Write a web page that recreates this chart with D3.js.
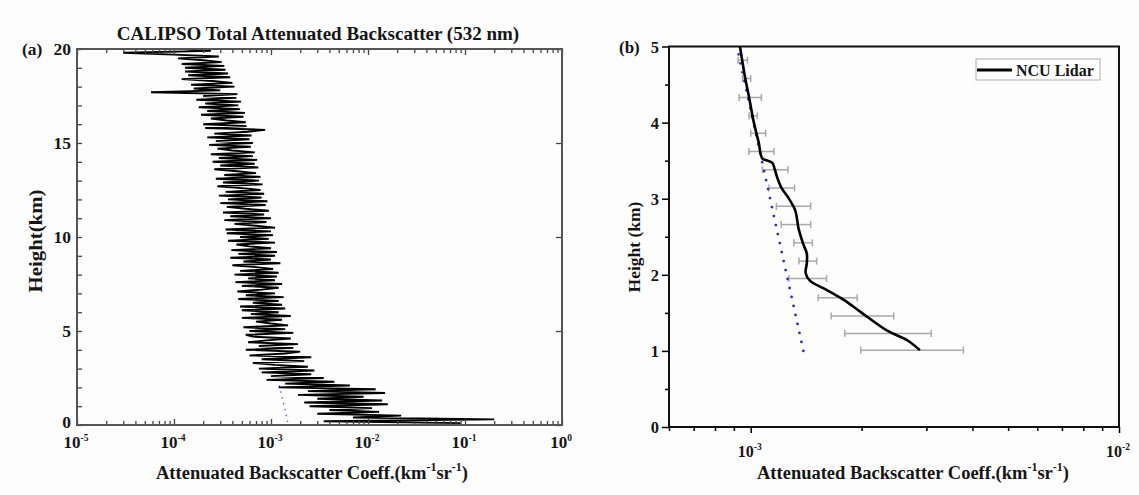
<!DOCTYPE html>
<html><head><meta charset="utf-8">
<script src="https://cdn.jsdelivr.net/npm/d3@7"></script>
<style>
body{margin:0;background:#fdfdfd}
text{font-family:"Liberation Serif","Times New Roman",serif;font-weight:bold;fill:#151515}
</style>
</head><body><svg id="c" width="1139" height="495"></svg>
<script>
// ---------- data ----------
// CALIPSO total attenuated backscatter profile, one value per 0.1 km bin starting at 0 km
const calipsoStartKm = 0, calipsoStepKm = 0.1;
const calipsoBeta = [
 4.5e-3, 9.0e-2, 3.5e-3, 2.0e-1, 7.0e-3, 2.2e-2, 3.0e-3, 1.3e-2, 4.0e-3, 1.1e-2,
 2.5e-3, 1.6e-2, 2.2e-3, 1.4e-2, 3.0e-3, 9.0e-3, 1.9e-3, 1.5e-2, 2.4e-3, 1.2e-2,
 1.2e-3, 6.5e-3, 1.4e-3, 4.5e-3, 9.0e-4, 3.5e-3, 1.0e-3, 2.6e-3, 8.0e-4, 2.8e-3,
 7.5e-4, 2.4e-3, 1.1e-3, 6.5e-4, 2.2e-3, 8.0e-4, 2.6e-3, 6.0e-4, 1.4e-3, 2.0e-3,
 5.5e-4, 1.7e-3, 7.5e-4, 1.9e-3, 5.8e-4, 9.0e-4, 1.6e-3, 6.5e-4, 5.5e-4, 1.7e-3,
 6.0e-4, 1.4e-3, 5.2e-4, 1.5e-3, 1.0e-3, 7.0e-4, 1.3e-3, 5.0e-4, 1.6e-3, 6.2e-4,
 1.2e-3, 5.0e-4, 1.4e-3, 4.8e-4, 1.3e-3, 6.5e-4, 1.2e-3, 4.6e-4, 1.35e-3, 5.5e-4,
 1.1e-3, 4.5e-4, 8.0e-4, 1.2e-3, 5.0e-4, 1.3e-3, 4.3e-4, 1.1e-3, 5.8e-4, 1.15e-3,
 4.2e-4, 1.2e-3, 4.8e-4, 1.05e-3, 7.0e-4, 4.0e-4, 1.25e-3, 5.2e-4, 1.0e-3, 3.8e-4,
 1.1e-3, 4.6e-4, 1.15e-3, 3.9e-4, 1.0e-3, 6.0e-4, 4.4e-4, 1.1e-3, 3.6e-4, 9.5e-4,
 4.8e-4, 1.05e-3, 3.5e-4, 1.0e-3, 3.4e-4, 1.1e-3, 7.0e-4, 4.2e-4, 9.0e-4, 3.3e-4,
 1.0e-3, 3.8e-4, 8.5e-4, 3.2e-4, 9.5e-4, 5.5e-4, 3.5e-4, 8.8e-4, 3.0e-4, 9.2e-4,
 3.6e-4, 8.0e-4, 2.9e-4, 8.5e-4, 3.4e-4, 7.8e-4, 5.0e-4, 2.8e-4, 8.2e-4, 3.2e-4,
 7.5e-4, 2.7e-4, 7.8e-4, 3.3e-4, 7.0e-4, 4.5e-4, 2.6e-4, 7.4e-4, 3.0e-4, 6.8e-4,
 2.5e-4, 7.2e-4, 2.9e-4, 6.5e-4, 2.4e-4, 6.8e-4, 4.0e-4, 2.8e-4, 6.2e-4, 2.3e-4,
 6.5e-4, 2.7e-4, 6.0e-4, 2.2e-4, 6.3e-4, 2.6e-4, 5.8e-4, 8.7e-4, 2.1e-4, 5.6e-4,
 2.0e-4, 5.5e-4, 3.5e-4, 2.4e-4, 5.2e-4, 1.9e-4, 5.4e-4, 2.2e-4, 4.8e-4, 1.8e-4,
 4.6e-4, 2.1e-4, 4.9e-4, 1.7e-4, 4.4e-4, 2.0e-4, 4.5e-4, 5.8e-5, 3.0e-4, 1.6e-4,
 4.2e-4, 1.5e-4, 4.0e-4, 2.5e-4, 1.2e-4, 3.8e-4, 1.4e-4, 3.6e-4, 1.3e-4, 3.4e-4,
 1.3e-4, 3.3e-4, 1.2e-4, 3.1e-4, 2.0e-4, 1.1e-4, 2.9e-4, 1.0e-4, 3.0e-5, 2.4e-4,
 1.3e-4
];
// molecular (Rayleigh) reference visible in panel (a)
const molAHeights = [0.2, 0.7, 1.2, 1.7, 2.3];
const molABeta = [1.48e-3, 1.41e-3, 1.34e-3, 1.27e-3, 1.19e-3];

// panel (b): NCU Lidar
const lidarHeights = [5.0, 4.6, 4.33, 4.0, 3.75, 3.53, 3.5, 3.47, 3.4, 3.28, 3.15, 3.0, 2.85, 2.6, 2.4, 2.28, 2.15, 2.02, 1.92, 1.8, 1.67, 1.51, 1.27, 1.14, 1.01];
const lidarBeta = [0.935e-3, 0.965e-3, 0.99e-3, 1.02e-3, 1.05e-3, 1.075e-3, 1.11e-3, 1.145e-3, 1.16e-3, 1.18e-3, 1.21e-3, 1.27e-3, 1.32e-3, 1.35e-3, 1.39e-3, 1.42e-3, 1.42e-3, 1.41e-3, 1.45e-3, 1.61e-3, 1.79e-3, 1.99e-3, 2.34e-3, 2.66e-3, 2.88e-3];
// panel (b): molecular reference
const molBHeights = [1.0, 1.5, 2.0, 2.5, 3.0, 3.5, 4.0, 4.5, 5.0];
const molBBeta = [1.390e-3, 1.320e-3, 1.252e-3, 1.189e-3, 1.129e-3, 1.072e-3, 1.017e-3, 0.966e-3, 0.917e-3];
// panel (b): error bars
const errHeights = [1.01, 1.23, 1.46, 1.70, 1.95, 2.18, 2.42, 2.66, 2.90, 3.14, 3.38, 3.62, 3.86, 4.09, 4.33, 4.58, 4.82];
const errLow  = [1.99e-3, 1.80e-3, 1.654e-3, 1.525e-3, 1.27e-3, 1.352e-3, 1.31e-3, 1.21e-3, 1.174e-3, 1.121e-3, 1.076e-3, 0.989e-3, 1.0e-3, 0.99e-3, 0.93e-3, 0.95e-3, 0.924e-3];
const errHigh = [3.78e-3, 3.09e-3, 2.446e-3, 1.946e-3, 1.607e-3, 1.51e-3, 1.47e-3, 1.455e-3, 1.455e-3, 1.316e-3, 1.262e-3, 1.156e-3, 1.098e-3, 1.042e-3, 1.069e-3, 1.0e-3, 0.98e-3];

// ticks
const aXTickValues = [1e-5, 1e-4, 1e-3, 1e-2, 1e-1, 1];
const aXTickExps = ["-5", "-4", "-3", "-2", "-1", "0"];
const aYTickValues = [0, 5, 10, 15, 20];
const bXTickValues = [1e-3, 1e-2];
const bXTickExps = ["-3", "-2"];
const bYTickValues = [0, 1, 2, 3, 4, 5];

// ---------- drawing ----------
const svg = d3.select("#c");
const A = {x0: 77, x1: 562, y0: 49, y1: 425};
const B = {x0: 669, x1: 1119, y0: 46.5, y1: 427};

const ax = d3.scaleLog().domain([1e-5, 1]).range([A.x0, A.x1]);
const ay = d3.scaleLinear().domain([0, 20]).range([A.y1, A.y0]);
const bx = d3.scaleLog().domain([6e-4, 1e-2]).range([B.x0, B.x1]);
const by = d3.scaleLinear().domain([0, 5]).range([B.y1, B.y0]);

function isDecade(v){ const l = Math.log10(v); return Math.abs(l - Math.round(l)) < 1e-6; }

// ----- Panel (a) -----
const ga = svg.append("g");
const calipso = calipsoBeta.map((v, i) => ({h: calipsoStartKm + i * calipsoStepKm, v}));

ga.append("path")
  .datum(molAHeights.map((h, i) => ({h, v: molABeta[i]})))
  .attr("fill", "none").attr("stroke", "#5b6be0").attr("stroke-width", 1.7)
  .attr("stroke-linecap", "round").attr("stroke-dasharray", "0,6")
  .attr("d", d3.line().x(d => ax(d.v)).y(d => ay(d.h)));

ga.append("path").datum(calipso)
  .attr("fill", "none").attr("stroke", "#000").attr("stroke-width", 1.9)
  .attr("stroke-linejoin", "bevel")
  .attr("d", d3.line().x(d => ax(d.v)).y(d => ay(d.h)));

const aLogTicks = ax.ticks();
function logTicksA(g, orient){
  const ax2 = (orient === "bottom" ? d3.axisBottom(ax) : d3.axisTop(ax));
  g.call(ax2.tickValues(aLogTicks).tickFormat("").tickSizeOuter(0).tickSize(-4));
  g.select(".domain").remove();
  g.selectAll(".tick line").attr("stroke", "#444").attr("stroke-width", 1.3)
    .attr("y2", d => (orient === "bottom" ? -1 : 1) * (isDecade(d) ? 6 : 4));
}
ga.append("g").attr("transform", `translate(0,${A.y1})`).call(g => logTicksA(g, "bottom"));
ga.append("g").attr("transform", `translate(0,${A.y0})`).call(g => logTicksA(g, "top"));
ga.append("g").attr("transform", `translate(${A.x0},0)`)
  .call(d3.axisLeft(ay).ticks(20).tickFormat("").tickSize(-5).tickSizeOuter(0))
  .call(g => g.select(".domain").remove())
  .call(g => g.selectAll(".tick line").attr("stroke", "#444").attr("stroke-width", 1.3));
ga.append("g").attr("transform", `translate(${A.x1},0)`)
  .call(d3.axisRight(ay).tickValues(aYTickValues).tickFormat("").tickSize(-6).tickSizeOuter(0))
  .call(g => g.select(".domain").remove())
  .call(g => g.selectAll(".tick line").attr("stroke", "#444").attr("stroke-width", 1.3));

ga.append("rect").attr("x", A.x0).attr("y", A.y0).attr("width", A.x1 - A.x0).attr("height", A.y1 - A.y0)
  .attr("fill", "none").attr("stroke", "#555").attr("stroke-width", 2);

aYTickValues.forEach(v => {
  ga.append("text").attr("x", A.x0 - 6).attr("y", ay(v) + (v === 0 ? 3 : 6))
    .attr("text-anchor", "end").attr("font-size", 17.5).text(v);
});
ga.append("text").attr("x", 22).attr("y", ay(20) + 6).attr("font-size", 17.5).text("(a)");
aXTickValues.forEach((v, i) => {
  const t = ga.append("text").attr("x", ax(v) - 1).attr("y", A.y1 + 23)
    .attr("text-anchor", "middle").attr("font-size", 17);
  t.append("tspan").text("10");
  t.append("tspan").attr("dy", -7).attr("font-size", 9.5).text(aXTickExps[i]);
});
ga.append("text").attr("x", 318).attr("y", 40)
  .attr("text-anchor", "middle").attr("font-size", 19)
  .text("CALIPSO Total Attenuated Backscatter (532 nm)");

function xTitle(g, cx){
  const t = g.append("text").attr("x", cx).attr("y", 479).attr("text-anchor", "middle").attr("font-size", 18.5);
  t.append("tspan").text("Attenuated Backscatter Coeff.(km");
  t.append("tspan").attr("dy", -8).attr("font-size", 12).text("-1");
  t.append("tspan").attr("dy", 8).text("sr");
  t.append("tspan").attr("dy", -8).attr("font-size", 12).text("-1");
  t.append("tspan").attr("dy", 8).text(")");
}
xTitle(ga, 312);
ga.append("text").attr("transform", `translate(42,241) rotate(-90)`)
  .attr("text-anchor", "middle").attr("font-size", 18)
  .attr("textLength", 103).attr("lengthAdjust", "spacingAndGlyphs").text("Height(km)");

// ----- Panel (b) -----
const gb = svg.append("g");

errHeights.forEach((h, i) => {
  const y = by(h), xl = bx(errLow[i]), xh = bx(errHigh[i]);
  const e = gb.append("g").attr("stroke", "#a9a9a9").attr("stroke-width", 1.5);
  e.append("line").attr("x1", xl).attr("x2", xh).attr("y1", y).attr("y2", y);
  e.append("line").attr("x1", xl).attr("x2", xl).attr("y1", y - 3.5).attr("y2", y + 3.5);
  e.append("line").attr("x1", xh).attr("x2", xh).attr("y1", y - 3.5).attr("y2", y + 3.5);
});

gb.append("path")
  .datum(molBHeights.map((h, i) => ({h, v: molBBeta[i]})))
  .attr("fill", "none").attr("stroke", "#2336b0").attr("stroke-width", 2.8)
  .attr("stroke-linecap", "round").attr("stroke-dasharray", "0,9.2")
  .attr("d", d3.line().x(d => bx(d.v)).y(d => by(d.h)));

gb.append("path")
  .datum(lidarHeights.map((h, i) => ({h, v: lidarBeta[i]})))
  .attr("fill", "none").attr("stroke", "#000").attr("stroke-width", 2.6)
  .attr("stroke-linejoin", "round")
  .attr("d", d3.line().curve(d3.curveCatmullRom.alpha(0.5)).x(d => bx(d.v)).y(d => by(d.h)));

const bLogTicks = bx.ticks();
gb.append("g").attr("transform", `translate(0,${B.y1})`)
  .call(d3.axisBottom(bx).tickValues(bLogTicks).tickFormat("").tickSizeOuter(0))
  .call(g => g.select(".domain").remove())
  .call(g => g.selectAll(".tick line").attr("stroke", "#000").attr("stroke-width", 1.5)
    .attr("y2", d => isDecade(d) ? 6 : 4));
gb.append("g").attr("transform", `translate(${B.x0},0)`)
  .call(d3.axisLeft(by).ticks(10).tickFormat("").tickSizeOuter(0))
  .call(g => g.select(".domain").remove())
  .call(g => g.selectAll(".tick line").attr("stroke", "#000").attr("stroke-width", 1.5)
    .attr("x2", d => Number.isInteger(d) ? -7 : -4));

gb.append("rect").attr("x", B.x0).attr("y", B.y0).attr("width", B.x1 - B.x0).attr("height", B.y1 - B.y0)
  .attr("fill", "none").attr("stroke", "#111").attr("stroke-width", 2);

bYTickValues.forEach(v => {
  gb.append("text").attr("x", B.x0 - 10).attr("y", by(v) + 6)
    .attr("text-anchor", "end").attr("font-size", 16.5).text(v);
});
gb.append("text").attr("x", 619).attr("y", by(5) + 6).attr("font-size", 17).text("(b)");
bXTickValues.forEach((v, i) => {
  const t = gb.append("text").attr("x", bx(v) - 1).attr("y", B.y1 + 30)
    .attr("text-anchor", "middle").attr("font-size", 16);
  t.append("tspan").text("10");
  t.append("tspan").attr("dy", -7).attr("font-size", 9.5).text(bXTickExps[i]);
});
xTitle(gb, 913);
gb.append("text").attr("transform", `translate(640,247) rotate(-90)`)
  .attr("text-anchor", "middle").attr("font-size", 17.5).text("Height (km)");

const lg = gb.append("g");
lg.append("rect").attr("x", 976).attr("y", 59).attr("width", 124).attr("height", 21)
  .attr("fill", "#fff").attr("stroke", "#bbb").attr("stroke-width", 1.2);
lg.append("line").attr("x1", 977).attr("x2", 1012).attr("y1", 70).attr("y2", 70)
  .attr("stroke", "#000").attr("stroke-width", 3);
lg.append("text").attr("x", 1016).attr("y", 75.5).attr("font-size", 16).text("NCU Lidar");
</script>
</body></html>
